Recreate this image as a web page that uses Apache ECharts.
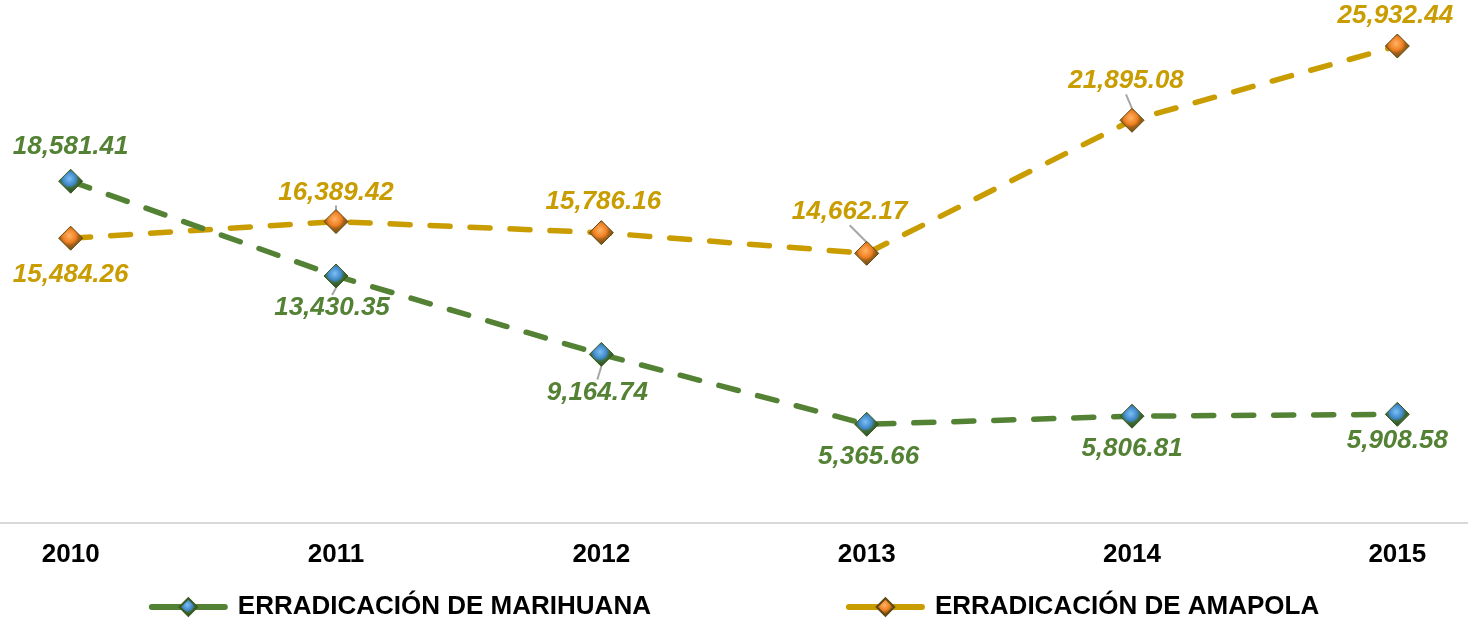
<!DOCTYPE html>
<html>
<head>
	<meta charset="UTF-8">
	<title>Erradicación</title>
	<style>
		* { margin: 0; padding: 0; }
		body { background: #ffffff; }
		#charts { width: 1468px; height: 618px; }
	</style>
</head>
<body>
	<div id="charts"></div>
</body>
<script src="https://cdn.jsdelivr.net/npm/echarts@6/dist/echarts.min.js"></script>
<script>
	// datos
	var years = ['2010', '2011', '2012', '2013', '2014', '2015'];
	var marihuana = [18581.41, 13430.35, 9164.74, 5365.66, 5806.81, 5908.58];
	var amapola = [15484.26, 16389.42, 15786.16, 14662.17, 21895.08, 25932.44];
	// posición de etiquetas [dx, dy] respecto al punto
	var offMarihuana = [[0, -34], [-4, 32], [-4, 38], [2, 33], [0, 33], [0, 27]];
	var offAmapola = [[0, 37], [0, -29], [2, -31], [-17, -41], [-6, -39], [-2, -30]];
	var lineMarihuana = [false, true, true, false, false, false];
	var lineAmapola = [false, true, false, true, true, false];

	var green = '#548235';
	var gold = '#c99c00';
	var font = '"Liberation Sans", Arial, sans-serif';

	function fmt(v) {
		return v.toLocaleString('en-US', { minimumFractionDigits: 2, maximumFractionDigits: 2 });
	}

	function build(values, lines) {
		var arr = [];
		for (var i = 0; i < values.length; i++) {
			arr.push({ value: values[i], labelLine: { show: lines[i] } });
		}
		return arr;
	}

	// marcador tipo "pirámide"
	var gemBlue = new echarts.graphic.RadialGradient(0.45, 0.4, 0.6, [
		{ offset: 0, color: '#7cc0f4' },
		{ offset: 0.45, color: '#3f86c8' },
		{ offset: 0.62, color: '#3c6a34' },
		{ offset: 1, color: '#2f4a1f' }
	]);
	var gemOrange = new echarts.graphic.RadialGradient(0.45, 0.4, 0.6, [
		{ offset: 0, color: '#ffb466' },
		{ offset: 0.45, color: '#ef7f22' },
		{ offset: 0.62, color: '#a8621a' },
		{ offset: 1, color: '#6a4a10' }
	]);

	var labelBase = {
		show: true,
		position: 'inside',
		fontFamily: font,
		fontWeight: 'bold',
		fontStyle: 'italic',
		fontSize: 26,
		formatter: function (p) { return fmt(p.value); }
	};

	var mycharts = echarts.init(document.getElementById('charts'));
	var option = {
		animation: false,
		backgroundColor: '#ffffff',
		grid: { left: -62, right: -62, top: 8, bottom: 95, outerBoundsMode: 'none' },
		legend: {
			top: 589,
			left: 'center',
			itemGap: 195,
			itemWidth: 73,
			itemHeight: 22,
			lineStyle: { type: 'solid', width: 6, cap: 'round' },
			textStyle: { fontFamily: font, fontWeight: 'bold', fontSize: 26, color: '#000000', padding: [0, 0, 0, 8] }
		},
		xAxis: {
			type: 'category',
			data: years,
			boundaryGap: true,
			axisLine: { lineStyle: { color: '#d9d9d9', width: 2 } },
			axisTick: { show: false },
			axisLabel: { margin: 19, fontFamily: font, fontWeight: 'bold', fontSize: 26, color: '#000000' }
		},
		yAxis: {
			type: 'value',
			min: 0,
			max: 28000,
			show: false,
			splitLine: { show: false }
		},
		series: [
			{
				name: 'ERRADICACIÓN DE MARIHUANA',
				type: 'line',
				data: build(marihuana, lineMarihuana),
				symbol: 'diamond',
				symbolSize: [24, 24],
				itemStyle: { color: gemBlue, borderColor: '#3b5a22', borderWidth: 1 },
				lineStyle: { color: green, width: 5.5, type: [20, 20], cap: 'round' },
				label: Object.assign({ color: green }, labelBase),
				labelLayout: function (p) {
					return { dx: offMarihuana[p.dataIndex][0], dy: offMarihuana[p.dataIndex][1] };
				},
				labelLine: { lineStyle: { color: '#a6a6a6', width: 2 } },
				z: 3
			},
			{
				name: 'ERRADICACIÓN DE AMAPOLA',
				type: 'line',
				data: build(amapola, lineAmapola),
				symbol: 'diamond',
				symbolSize: [24, 24],
				itemStyle: { color: gemOrange, borderColor: '#5e4a10', borderWidth: 1 },
				lineStyle: { color: gold, width: 5.5, type: [20, 20], cap: 'round' },
				label: Object.assign({ color: gold }, labelBase),
				labelLayout: function (p) {
					return { dx: offAmapola[p.dataIndex][0], dy: offAmapola[p.dataIndex][1] };
				},
				labelLine: { lineStyle: { color: '#a6a6a6', width: 2 } },
				z: 2
			}
		]
	};
	mycharts.setOption(option);
</script>
</html>
